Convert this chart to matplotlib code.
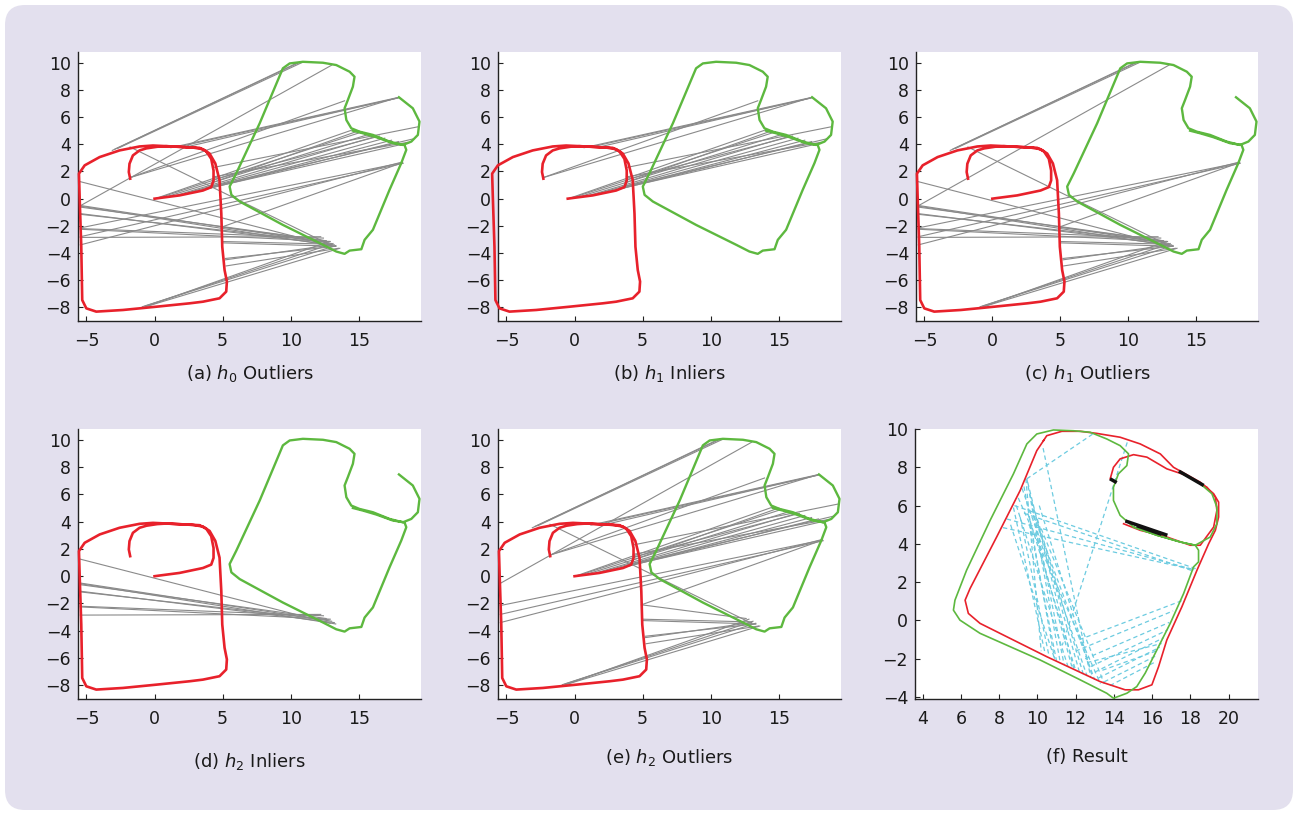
#!/usr/bin/env python3

import matplotlib
matplotlib.use("Agg")
import matplotlib.pyplot as plt
from matplotlib.patches import FancyBboxPatch
from matplotlib import transforms

plt.rcParams['font.family'] = ['DejaVu Sans']
plt.rcParams['mathtext.fontset'] = 'dejavusans'

# trajectory of robot 1 (red), own frame
redX = [0.0, 0.37, 1.83, 3.55, 4.16, 4.33, 4.33, 4.16, 3.79, 3.3, 1.35, -0.12, -1.1,
        -2.57, -4.03, -5.13, -5.55, -5.5, -5.38, -5.31, -5.01, -4.28, -2.32, 0.12, 2.57,
        3.55, 4.77, 5.26, 5.31, 5.14, 4.97, 4.9, 4.77, 4.46, 4.04, 3.55, 2.82, 0.86, 0.2,
        -0.6, -1.1, -1.59, -1.84, -1.89, -1.79]
redY = [0.0, 0.05, 0.24, 0.6, 0.85, 1.34, 2.07, 2.93, 3.49, 3.74, 3.84, 3.91, 3.84,
        3.55, 3.06, 2.45, 1.84, 0.13, -3.54, -7.46, -8.07, -8.31, -8.19, -7.95, -7.7,
        -7.58, -7.33, -6.84, -6.1, -5.25, -3.54, -1.09, 1.36, 2.59, 3.32, 3.64, 3.76, 3.86, 3.82,
        3.7, 3.55, 3.18, 2.57, 1.96, 1.47]

# trajectory of robot 2 (green), own frame
greenX = [17.94, 18.96, 19.45, 19.33, 18.85, 18.23, 17.25, 16.03, 15.05, 14.44, 14.08, 13.95,
          14.19, 14.56, 14.68, 14.32, 13.34, 12.36, 10.89, 9.92, 9.42, 7.72, 6.0, 5.51, 5.64,
          6.25, 9.42, 12.36, 13.34, 13.95, 14.32, 15.18, 15.42, 16.03, 17.25, 18.11, 18.48,
          18.35, 17.5, 16.28, 15.3, 14.56]
greenY = [7.46, 6.65, 5.67, 4.69, 4.2, 3.95, 4.2, 4.69, 4.93, 5.18, 5.79, 6.65,
          7.26, 8.24, 8.97, 9.34, 9.83, 10.0, 10.07, 9.95, 9.59, 5.55, 1.87, 0.89, 0.28,
          -0.21, -1.93, -3.39, -3.89, -4.06, -3.82, -3.72, -3.03, -2.29, 0.65, 2.61, 3.59,
          3.95, 4.08, 4.52, 4.81, 5.0]

# candidate correspondences: point on red -> point on green
matchFrom = [(-1.8, 1.55), (-1.8, 1.55), (1.2, 3.75), (1.7, 3.8), (2.3, 3.8), (4.35, 2.3),
             (0.05, 0.0), (0.3, 0.05), (0.9, 0.15), (1.6, 0.25), (2.3, 0.4), (2.9, 0.5),
             (3.4, 0.6), (3.9, 0.75), (4.2, 0.9), (4.3, 1.2), (4.3, 1.4), (4.3, 1.6),
             (-2.9, 3.65), (-2.7, 3.7), (-3.1, 3.55), (-5.5, -0.55), (-1.8, 3.8), (4.9, -2.1),
             (-5.45, -2.15), (-5.45, -2.8), (-5.45, -3.4), (4.95, -3.15), (4.95, -3.25),
             (4.95, -2.1), (5.2, -4.4), (5.2, -4.5), (5.25, -4.95), (-0.9, -7.95),
             (-0.7, -7.9), (-0.5, -7.9), (-0.8, -8.0),
             (-5.45, 1.25), (-5.45, -0.5), (-5.45, -0.55), (-5.45, -0.62), (-5.45, -1.1),
             (-5.45, -1.15), (-5.45, -2.2), (-5.45, -2.25), (-5.45, -2.85)]
matchTo = [(17.9, 7.45), (13.95, 7.2), (17.9, 7.45), (17.85, 7.4), (17.9, 7.42), (19.4, 5.3),
           (14.5, 5.05), (15.2, 4.9), (15.8, 4.75), (16.3, 4.6), (16.9, 4.45), (17.4, 4.3),
           (17.9, 4.2), (18.4, 4.05), (19.0, 4.4), (15.0, 5.0), (16.5, 4.6), (18.6, 4.15),
           (10.7, 10.05), (10.9, 10.05), (10.5, 10.0), (13.0, 9.82), (13.0, -3.45), (18.2, 2.65),
           (18.2, 2.65), (18.25, 2.6), (18.2, 2.7), (13.0, -3.35), (13.3, -3.5),
           (12.6, -3.1), (13.3, -3.5), (13.0, -3.4), (13.5, -3.65), (13.3, -3.45),
           (13.1, -3.3), (13.6, -3.65), (12.8, -3.15),
           (12.9, -3.45), (13.0, -3.3), (13.3, -3.5), (12.6, -3.1), (13.2, -3.4),
           (12.8, -3.2), (12.4, -2.9), (12.9, -3.15), (12.2, -2.8)]
h1Inliers = list(range(0, 18))
h2Inliers = list(range(37, 46))

# merged map after applying the hypothesis
resRedOuterX = [10.32, 10.49, 11.28, 12.24, 13.11, 14.33, 15.38, 16.43, 17.12, 18.52, 19.22,
                19.48, 19.48, 19.31, 18.96, 18.35, 17.56, 16.77, 16.34, 15.99, 15.29, 14.59,
                13.28, 10.49, 7.0, 6.39, 6.22, 6.48, 7.87, 9.1, 9.97, 10.32]
resRedOuterY = [9.39, 9.65, 9.88, 9.88, 9.77, 9.57, 9.22, 8.7, 8.0, 7.22, 6.62,
                6.18, 5.4, 4.71, 4.01, 2.63, 0.72, -1.02, -2.41, -3.36, -3.62, -3.62,
                -3.19, -1.89, -0.15, 0.37, 1.06, 1.67, 4.36, 6.79, 8.87, 9.39]
resRedInnerX = [13.81, 13.98, 14.33, 15.03, 15.73, 16.77, 17.82, 18.87, 19.31, 19.39, 19.22,
                18.52, 18.0, 16.77, 15.38, 14.51]
resRedInnerY = [7.4, 8.0, 8.44, 8.66, 8.53, 7.92, 7.57, 6.96, 6.44, 5.75, 4.88,
                3.93, 3.93, 4.36, 4.71, 5.05]
resGreenX = [17.47, 18.52, 19.13, 19.39, 19.39, 19.04, 18.26, 17.47, 16.25, 15.03, 14.33,
             13.98, 13.98, 14.24, 14.68, 14.77, 14.33, 13.63, 12.76, 11.89, 10.84, 9.97,
             9.45, 8.75, 7.53, 6.3, 5.69, 5.61, 5.95, 7.0, 10.14, 12.24, 13.63, 13.98, 14.68,
             15.2, 15.64, 16.25, 16.95, 17.65, 18.17, 18.43, 18.43, 18.26, 17.47, 16.25, 15.03]
resGreenY = [7.74, 7.14, 6.62, 5.92, 5.05, 4.36, 3.93, 4.1, 4.45, 4.88, 5.49,
             6.27, 6.96, 7.66, 8.09, 8.7, 9.13, 9.48, 9.83, 9.91, 9.95, 9.74,
             9.22, 7.66, 5.23, 2.63, 1.06, 0.54, 0.02, -0.67, -2.06, -3.1, -3.8, -4.06, -3.8,
             -3.45, -2.75, -1.54, -0.15, 1.41, 2.8, 3.06, 3.67, 3.93, 4.1, 4.45, 4.88]
# remaining correspondences in the merged map
resLinkFrom = [(9.45, 7.4), (9.3, 7.0), (9.6, 6.6), (9.2, 6.9), (8.75, 5.9), (8.9, 6.0),
               (9.5, 5.6), (9.8, 5.5), (9.6, 5.0), (10.0, 5.3), (10.3, 9.0), (9.4, 7.4),
               (9.0, 6.4), (9.45, 7.4), (14.7, 9.3), (8.4, 5.3), (8.2, 4.85), (8.8, 6.0),
               (9.3, 5.6), (12.2, -1.0), (12.5, -2.0), (12.8, -2.4), (13.0, -2.7),
               (13.2, -3.0), (13.5, -3.2), (12.6, -2.2), (13.8, -3.4),
               (9.5, 7.2), (9.7, 6.2), (9.1, 5.4), (10.1, 6.0), (9.9, 4.6), (8.6, 5.0),
               (10.2, 4.8), (12.0, -1.6), (13.4, -2.6)]
resLinkTo = [(11.2, -2.2), (10.9, -2.0), (12.2, -2.7), (12.6, -2.9), (10.4, -1.7), (11.6, -2.4),
             (12.0, -2.6), (13.0, -3.1), (11.0, -2.1), (12.4, -2.8), (12.8, -3.0), (10.2, -1.6),
             (13.3, -3.3), (12.93, 9.76), (11.3, -1.3), (18.2, 2.65), (18.2, 2.65), (18.3, 2.7),
             (18.1, 2.6), (17.6, 1.05), (16.9, -0.1), (16.8, -0.5), (16.6, -0.9),
             (16.4, -1.4), (16.3, -1.8), (16.5, -1.2), (16.1, -2.2),
             (11.9, -2.5), (11.4, -2.3), (10.6, -1.8), (12.9, -3.0), (11.8, -2.4), (10.9, -2.0),
             (13.5, -3.3), (17.1, 0.5), (16.2, -1.6)]
# overlapping segments
resBlackFrom = [(13.8, 7.4), (17.4, 7.8), (14.6, 5.2), (15.2, 4.95)]
resBlackTo = [(14.15, 7.2), (18.7, 7.05), (16.8, 4.45), (16.5, 4.5)]

RED = '#e8212b'
GREEN = '#5db83f'
GRAY = '#8a8a8a'
CYAN = '#6ccbe0'
BG = '#e3e0ee'

W, H = 1298, 815


def axesAt(fig, left, top, right, bottom):
  return fig.add_axes([left / W, 1 - bottom / H, (right - left) / W, (bottom - top) / H])


def styleAxes(ax, xlim, ylim, xticks, yticks):
  ax.set_xlim(*xlim)
  ax.set_ylim(*ylim)
  ax.set_xticks(xticks)
  ax.set_yticks(yticks)
  ax.set_facecolor('white')
  for side in ('top', 'right'):
    ax.spines[side].set_visible(False)
  for side in ('left', 'bottom'):
    ax.spines[side].set_linewidth(1.0)
    ax.spines[side].set_color('#222222')
  ax.tick_params(direction='in', length=3.5, width=0.8, labelsize=12.5,
                 colors='#222222', labelcolor='#1a1a1a')
  ax.tick_params(axis='y', pad=5)
  ax.tick_params(axis='x', pad=8)


def drawMatchPanel(fig, box, idx, label, labelXY, shift=0.0):
  ax = axesAt(fig, *box)
  styleAxes(ax, (-5.62, 19.56), (-9.0, 10.79), [-5, 0, 5, 10, 15], list(range(-8, 11, 2)))
  tr = transforms.Affine2D().translate(shift, 0) + ax.transData
  for i in idx:
    (x0, y0), (x1, y1) = matchFrom[i], matchTo[i]
    ax.plot([x0, x1], [y0, y1], color=GRAY, lw=0.8, transform=tr, zorder=1)
  ax.plot(redX, redY, color=RED, lw=1.9, transform=tr, clip_on=False, zorder=3,
          solid_joinstyle='round')
  ax.plot(greenX, greenY, color=GREEN, lw=1.7, transform=tr, clip_on=False, zorder=3,
          solid_joinstyle='round')
  fig.text(labelXY[0] / W, 1 - labelXY[1] / H, label, ha='center', va='center', fontsize=13,
           color='#1a1a1a')
  return ax


def drawResult(fig, box, label, labelXY):
  ax = axesAt(fig, *box)
  styleAxes(ax, (3.6, 21.54), (-4.1, 10.0), list(range(4, 21, 2)), list(range(-4, 11, 2)))
  for (x0, y0), (x1, y1) in zip(resLinkFrom, resLinkTo):
    ax.plot([x0, x1], [y0, y1], color=CYAN, lw=0.9, dashes=(3.5, 2.5), zorder=1)
  ax.plot(resRedOuterX, resRedOuterY, color=RED, lw=1.2, zorder=2)
  ax.plot(resRedInnerX, resRedInnerY, color=RED, lw=1.2, zorder=2)
  ax.plot(resGreenX, resGreenY, color=GREEN, lw=1.2, zorder=3)
  for (x0, y0), (x1, y1) in zip(resBlackFrom, resBlackTo):
    ax.plot([x0, x1], [y0, y1], color='#111111', lw=2.5, zorder=4, solid_capstyle='butt')
  fig.text(labelXY[0] / W, 1 - labelXY[1] / H, label, ha='center', va='center', fontsize=13,
           color='#1a1a1a')
  return ax


def main():
  fig = plt.figure(figsize=(W / 100, H / 100), dpi=100)
  fig.patch.set_facecolor('white')
  panel = FancyBboxPatch((0.05, 0.05), W / 100 - 0.1, H / 100 - 0.1,
                         boxstyle='round,pad=0,rounding_size=0.2',
                         transform=fig.dpi_scale_trans, facecolor=BG, edgecolor='none',
                         zorder=-10)
  fig.patches.append(panel)

  allIdx = list(range(len(matchFrom)))
  notH1 = [i for i in allIdx if i not in h1Inliers]
  notH2 = [i for i in allIdx if i not in h2Inliers]

  drawMatchPanel(fig, (78, 52, 421, 321), allIdx, r'(a) $h_0$ Outliers', (250, 373))
  drawMatchPanel(fig, (498, 52, 841, 321), h1Inliers, r'(b) $h_1$ Inliers', (669, 373),
                 shift=-0.5)
  drawMatchPanel(fig, (916, 52, 1258, 321), notH1, r'(c) $h_1$ Outliers', (1087, 373))
  drawMatchPanel(fig, (78, 429, 421, 699), h2Inliers, r'(d) $h_2$ Inliers', (249, 761))
  drawMatchPanel(fig, (498, 429, 841, 699), notH2, r'(e) $h_2$ Outliers', (669, 757))
  drawResult(fig, (915, 429, 1258, 699), '(f) Result', (1087, 757))

  fig.savefig('out.png', dpi=100, facecolor=fig.get_facecolor())


if __name__ == '__main__':
  main()
